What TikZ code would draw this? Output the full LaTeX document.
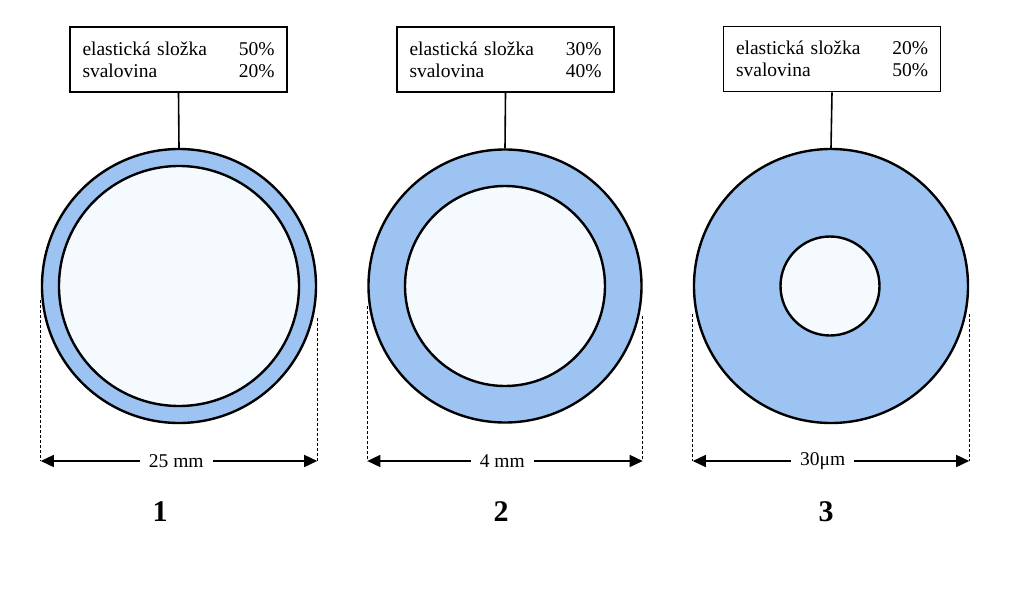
\documentclass[tikz,border=0pt]{standalone}
\usepackage{fontspec}
\setmainfont{Liberation Serif}
\usetikzlibrary{arrows.meta}
\definecolor{wallblue}{HTML}{9CC3F1}
\definecolor{lumenfill}{HTML}{F5FAFF}

\begin{document}
\begin{tikzpicture}[x=1pt,y=-1pt,
  infobox/.style={draw,line width=1.8pt,minimum width=217pt,minimum height=65pt,
    text width=192pt,inner sep=0pt,font=\fontsize{19.5}{22}\selectfont},
  wall/.style={circle,draw,line width=2.4pt,fill=wallblue,inner sep=0pt},
  lumen/.style={circle,draw,line width=2.4pt,fill=lumenfill,inner sep=0pt},
  dim/.style={line width=1.5pt,{Triangle[length=13pt,width=12pt]}-{Triangle[length=13pt,width=12pt]}},
  guide/.style={line width=1.1pt,dash pattern=on 3pt off 2pt},
  dimlabel/.style={fill=white,inner xsep=9pt,font=\fontsize{19.5}{22}\selectfont},
  number/.style={font=\fontsize{30}{30}\selectfont\bfseries}]
\useasboundingbox (0,0) rectangle (1023,610);

% vessel 1
\node[wall,minimum size=274pt] (o1) at (179,286) {};
\node[lumen,minimum size=240pt] (i1) at (179,286) {};
\node[infobox] (b1) at (178.5,59.5) {elastická složka\hfill 50\%\\svalovina\hfill 20\%};
\draw[line width=1.6pt] (b1.south) -- (o1.north);
% dimension 1
\path (o1.west) ++(0,175) coordinate (a1);
\path (o1.east) ++(0,175) coordinate (c1);
\draw[guide] ([yshift=-14pt]o1.west) -- (a1);
\draw[guide] ([yshift=-32pt]o1.east) -- (c1);
\draw[dim] (a1) -- (c1) node[dimlabel,pos=0.49] {25 mm};
\node[number] (n1) at (160,512) {1};

% vessel 2
\node[wall,minimum size=273pt] (o2) at (505,286) {};
\node[lumen,minimum size=200pt] (i2) at (505,286) {};
\node[infobox] (b2) at (505.5,59.5) {elastická složka\hfill 30\%\\svalovina\hfill 40\%};
\draw[line width=1.6pt] (b2.south) -- (o2.north);
% dimension 2
\path (o2.west) ++(0,175) coordinate (a2);
\path (o2.east) ++(0,175) coordinate (c2);
\draw[guide] ([yshift=-20pt]o2.west) -- (a2);
\draw[guide] ([yshift=-30pt]o2.east) -- (c2);
\draw[dim] (a2) -- (c2) node[dimlabel,pos=0.49] {4 mm};
\node[number] (n2) at (501,512) {2};

% vessel 3
\node[wall,minimum size=274pt] (o3) at (831,286) {};
\node[lumen,minimum size=99pt] (i3) at (830,286) {};
\node[infobox] (b3) at (832,59) {elastická složka\hfill 20\%\\svalovina\hfill 50\%};
\draw[line width=1.6pt] (b3.south) -- (o3.north);
% dimension 3
\path (o3.west) ++(0,175) coordinate (a3);
\path (o3.east) ++(0,175) coordinate (c3);
\draw[guide] ([yshift=-28pt]o3.west) -- (a3);
\draw[guide] ([yshift=-28pt]o3.east) -- (c3);
\draw[dim] (a3) -- (c3) node[dimlabel,pos=0.47] {30μm};
\node[number] (n3) at (826,512) {3};

\end{tikzpicture}
\end{document}
